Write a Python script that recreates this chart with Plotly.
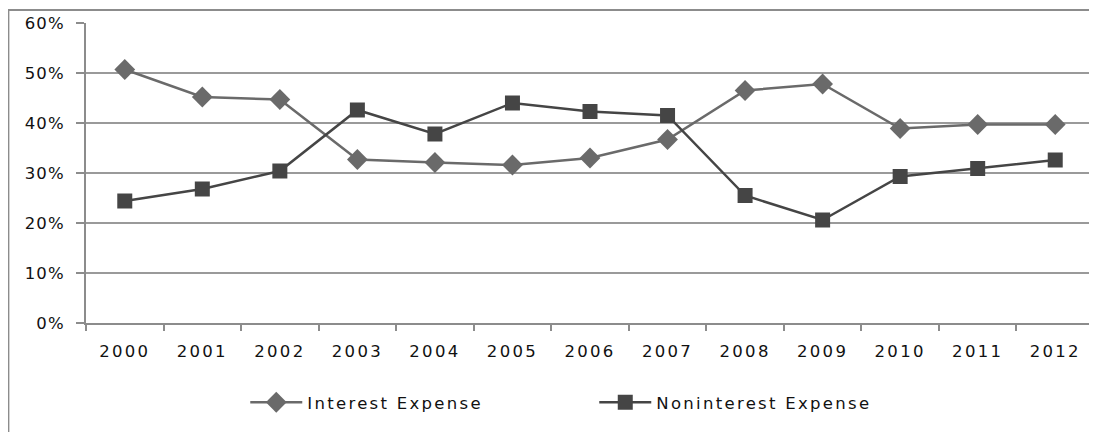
import plotly.graph_objects as go

years = ["2000", "2001", "2002", "2003", "2004", "2005", "2006", "2007", "2008", "2009", "2010", "2011", "2012"]
interest_expense = [0.507, 0.452, 0.447, 0.327, 0.321, 0.316, 0.330, 0.367, 0.465, 0.478, 0.389, 0.397, 0.397]
noninterest_expense = [0.244, 0.268, 0.304, 0.426, 0.378, 0.440, 0.423, 0.415, 0.255, 0.206, 0.293, 0.309, 0.326]
y_ticks = [0.0, 0.1, 0.2, 0.3, 0.4, 0.5, 0.6]
y_tick_labels = ["0%", "10%", "20%", "30%", "40%", "50%", "60%"]

def sp(t, ls=2.3):
    return f'<span style="letter-spacing:{ls}px">{t}</span>'

FONT = "DejaVu Sans"
FS = 16.5

fig = go.Figure()
fig.add_trace(go.Scatter(
    x=years, y=interest_expense, mode="lines+markers", name=sp("Interest Expense"),
    line=dict(color="#6a6a6a", width=2.5),
    marker=dict(symbol="diamond", size=16, color="#6a6a6a", line=dict(width=0)),
))
fig.add_trace(go.Scatter(
    x=years, y=noninterest_expense, mode="lines+markers", name=sp("Noninterest Expense"),
    line=dict(color="#454545", width=2.5),
    marker=dict(symbol="square", size=15, color="#454545", line=dict(width=0)),
))

fig.update_layout(
    width=1089, height=424,
    margin=dict(l=78, r=3, t=15, b=109),
    paper_bgcolor="white", plot_bgcolor="white",
    font=dict(family=FONT, size=FS, color="#111111"),
    showlegend=True,
    legend=dict(orientation="h", x=0.158, xanchor="left", y=-0.265, yanchor="middle",
                font=dict(family=FONT, size=FS, color="#111111"),
                itemwidth=52, entrywidth=282, bgcolor="rgba(0,0,0,0)"),
    xaxis=dict(type="category", tickson="boundaries", ticks="outside", ticklen=6,
               tickcolor="#8c8c8c", tickwidth=1.5, showline=True, linecolor="#8c8c8c",
               linewidth=1.5, showgrid=False, range=[-0.5, 12.5],
               tickvals=years, ticktext=[sp(y) for y in years],
               ticklabelstandoff=12, tickfont=dict(family=FONT, size=FS, color="#111111")),
    yaxis=dict(range=[0, 0.6], tickvals=y_ticks, ticktext=[sp(t, 1.2) for t in y_tick_labels],
               ticks="outside", ticklen=8, tickcolor="#8c8c8c", tickwidth=1.5,
               showline=True, linecolor="#8c8c8c", linewidth=1.5,
               showgrid=True, gridcolor="#9a9a9a", gridwidth=1.5, zeroline=False,
               ticklabelstandoff=8, tickfont=dict(family=FONT, size=FS, color="#111111")),
)

fig.add_shape(type="rect", xref="paper", yref="paper",
              x0=-0.077, x1=1.2, y0=-0.6, y1=1.0433,
              line=dict(color="#8c8c8c", width=2), fillcolor="rgba(0,0,0,0)", layer="below")

fig.write_html("out.html")
